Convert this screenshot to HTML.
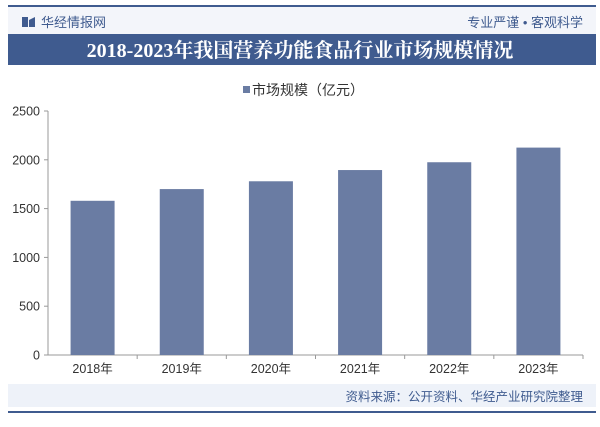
<!DOCTYPE html>
<html><head><meta charset="utf-8"><style>
html,body{margin:0;padding:0;background:#fff;}
body{width:600px;height:422px;position:relative;overflow:hidden;font-family:"Liberation Sans","Noto Sans CJK SC",sans-serif;}
</style></head><body>
<svg width="600" height="422" viewBox="0 0 600 422" xmlns="http://www.w3.org/2000/svg">
<rect x="8" y="6" width="588" height="28" fill="#f3f5fa"/>
<line x1="8" y1="6" x2="596" y2="6" stroke="#3f5b8f" stroke-width="2"/>
<g>
<rect x="22" y="17" width="6" height="10" fill="#3f5b8f"/>
<polygon points="29,20 35,17 35,27 29,27" fill="#3f5b8f"/>
</g>
<text x="41" y="27" font-size="13" fill="#3f5b8f" font-family="'Liberation Sans','Noto Sans CJK SC',sans-serif">华经情报网</text>
<text x="583" y="27" font-size="13" fill="#3f5b8f" text-anchor="end" font-family="'Liberation Sans','Noto Sans CJK SC',sans-serif">专业严谨 • 客观科学</text>
<rect x="8" y="34" width="588" height="31" fill="#3f5b8f"/>
<text x="300" y="57" font-size="20" font-weight="bold" fill="#fff" text-anchor="middle" font-family="'Liberation Serif','Noto Serif CJK SC',serif">2018-2023年我国营养功能食品行业市场规模情况</text>
<g>
<rect x="243" y="86" width="7" height="7" fill="#6a7ca3"/>
<text x="252" y="95" font-size="14" fill="#333" font-family="'Liberation Sans','Noto Sans CJK SC',sans-serif">市场规模（亿元）</text>
</g>
<rect x="8" y="384" width="588" height="23" fill="#eef2f9"/>
<text x="583" y="401" font-size="12.5" fill="#3f5b8f" text-anchor="end" font-family="'Liberation Sans','Noto Sans CJK SC',sans-serif">资料来源：公开资料、华经产业研究院整理</text>
<line x1="8" y1="412" x2="596" y2="412" stroke="#3f5b8f" stroke-width="2"/>
<g id="plot"></g>
</svg>
<script>
const categories = ["2018年","2019年","2020年","2021年","2022年","2023年"];
const values = [1580, 1700, 1780, 1895, 1975, 2125];
const yTicks = [0, 500, 1000, 1500, 2000, 2500];

const NS = "http://www.w3.org/2000/svg";
const plot = document.getElementById("plot");
const x0 = 48, x1 = 583, yBase = 355, yTop = 111, yMax = 2500;
const band = (x1 - x0) / categories.length;
const barW = 44;
function yScale(v){ return yBase - (v / yMax) * (yBase - yTop); }
function xCenter(i){ return x0 + band * (i + 0.5); }
function mk(tag, attrs){ const e = document.createElementNS(NS, tag); for (const k in attrs) e.setAttribute(k, attrs[k]); return e; }

const yAxis = mk("line", {x1:x0, y1:yTop, x2:x0, y2:yBase, stroke:"#999", "stroke-width":1});


plot.appendChild(yAxis);
const xAxis = mk("line", {x1:x0, y1:yBase, x2:x1, y2:yBase, stroke:"#999", "stroke-width":1});


plot.appendChild(xAxis);

yTicks.forEach(t => {
  const y = yScale(t);
  const tk = mk("line", {x1:x0-4, y1:y, x2:x0, y2:y, stroke:"#999"});
  
  
  plot.appendChild(tk);
  const lb = mk("text", {x:x0-8, y:y+4.5, "font-size":12.5, fill:"#333", "text-anchor":"end"});
  lb.textContent = t;
  
  
  plot.appendChild(lb);
});

categories.forEach((c, i) => {
  const cx = xCenter(i);
  const y = yScale(values[i]);
  const r = mk("rect", {x:cx - barW/2, y:y, width:barW, height:yBase - y, fill:"#6a7ca3"});
  
  
  plot.appendChild(r);
  const tk = mk("line", {x1:x0 + band*(i+1), y1:yBase, x2:x0 + band*(i+1), y2:yBase+4, stroke:"#999"});
  
  
  plot.appendChild(tk);
  const lb = mk("text", {x:cx, y:yBase+18, "font-size":12.5, fill:"#333", "text-anchor":"middle"});
  lb.textContent = c;
  
  
  plot.appendChild(lb);
});
</script>
</body></html>
